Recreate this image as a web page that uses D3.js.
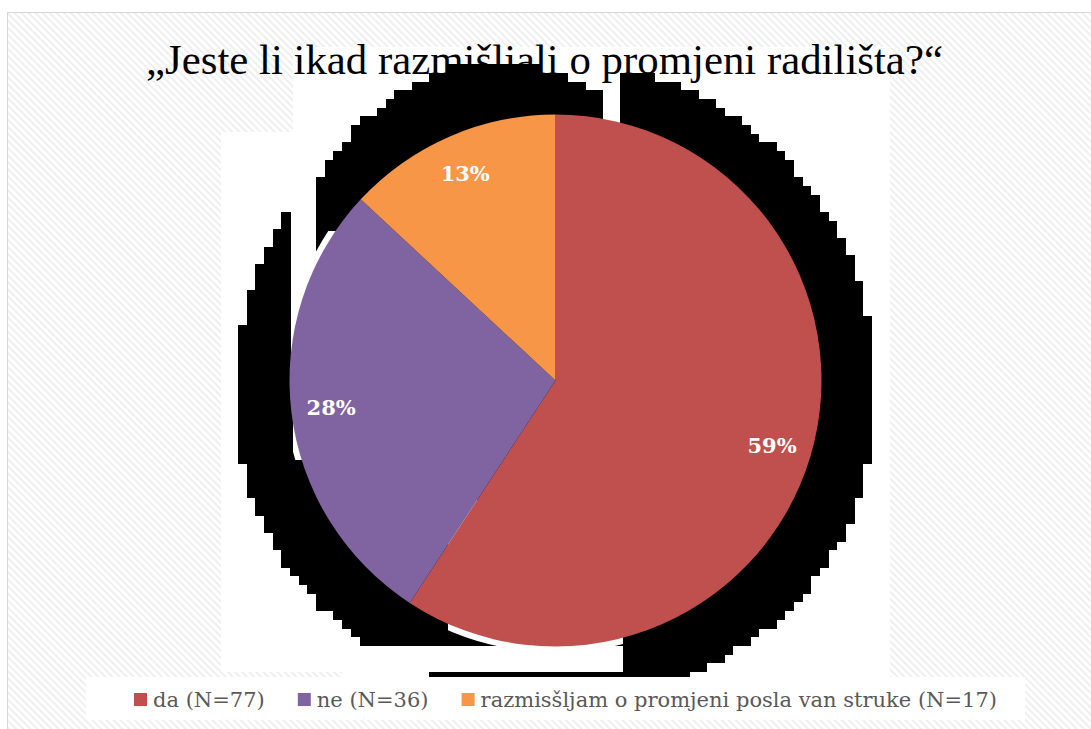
<!DOCTYPE html>
<html>
<head>
<meta charset="utf-8">
<script src="https://cdn.jsdelivr.net/npm/d3@7"></script>
<style>
  body { margin: 0; background: #fff; }
  svg { display: block; }
  .title { font-family: 'Liberation Serif', Tinos, 'Nimbus Roman', 'Times New Roman', 'DejaVu Serif', serif; }
</style>
</head>
<body>
<div id="chart"></div>
<script>
// podaci
const title = '„Jeste li ikad razmišljali o promjeni radilišta?“';
const categories = ['da (N=77)', 'ne (N=36)', 'razmisšljam o promjeni posla van struke (N=17)'];
const counts = [77, 36, 17];
const colors = ['#C0504D', '#8064A2', '#F79646'];

const W = 1091, H = 729;
const cx = 555.5, cy = 380.5, R = 266;

const svg = d3.select('#chart').append('svg')
    .attr('width', W)
    .attr('height', H);

const defs = svg.append('defs');
defs.append('pattern')
    .attr('id', 'hatch')
    .attr('width', 5).attr('height', 5)
    .attr('patternUnits', 'userSpaceOnUse')
    .attr('patternTransform', 'rotate(-45)')
    .append('rect')
    .attr('width', 2).attr('height', 5)
    .attr('fill', '#efefef');

// pozadina
svg.append('rect').attr('width', W).attr('height', H).attr('fill', '#fff');
svg.append('rect')
    .attr('x', 7.5).attr('y', 12.5)
    .attr('width', W).attr('height', H)
    .attr('fill', 'url(#hatch)')
    .attr('stroke', '#d6d6d6');

// bijele plohe
const panels = [[221, 132, 669, 540], [293, 47, 597, 625], [342, 672, 548, 5]];
svg.append('g').selectAll('rect')
    .data(panels)
    .join('rect')
    .attr('x', d => d[0]).attr('y', d => d[1])
    .attr('width', d => d[2]).attr('height', d => d[3])
    .attr('fill', '#fff');

// naslov
const titleText = svg.append('text')
    .attr('class', 'title')
    .attr('x', 544.5).attr('y', 74)
    .attr('text-anchor', 'middle')
    .attr('font-size', 40)
    .attr('fill', '#000')
    .text(title);
// prilagodi širinu naslova (oko 797 px)
const tw = titleText.node().getComputedTextLength();
titleText.attr('font-size', Math.min(44, 40 * 797 / tw));

// crna "sjena" iza grafikona (rasterizirana elipsa)
const g = 8.68, gx0 = 238, gy0 = 73 - 2 * 8.68;
function spanMain (x) {
    const dx = (x - cx) / 317.5;
    if (Math.abs(dx) >= 1) return null;
    const k = Math.sqrt(1 - dx * dx);
    return [377 - 315 * k, 412 + 290 * k];
}
function spanTop (x) {
    const dx = (x - 497) / 230;
    if (Math.abs(dx) >= 1) return null;
    const k = Math.sqrt(1 - dx * dx);
    return [377 - 315 * k, 400];
}
const cells = [];
for (let i = 0; i < 76; i++) {
    const x0 = gx0 + i * g, xc = x0 + g / 2;
    let spans = [];
    if (xc < 293 || xc > 623) {
        spans.push(spanMain(xc));
    } else {
        const m = spanMain(xc);
        if (m) spans.push([Math.max(m[0], 390), m[1]]);
        if (xc > 319 && xc < 606) spans.push(spanTop(xc));
    }
    spans.filter(Boolean).forEach(s => {
        const j0 = Math.ceil((s[0] - gy0) / g - 0.5);
        const j1 = Math.floor((s[1] - gy0) / g - 0.5);
        if (j1 >= j0) cells.push({ x: x0, y: gy0 + j0 * g, h: (j1 - j0 + 1) * g });
    });
}
svg.append('g')
    .attr('shape-rendering', 'crispEdges')
    .selectAll('rect')
    .data(cells)
    .join('rect')
    .attr('x', d => d.x).attr('y', d => d.y)
    .attr('width', g + 0.5).attr('height', d => d.h)
    .attr('fill', '#000');

// bijeli izrezi
defs.append('clipPath').attr('id', 'cutL')
    .append('rect').attr('x', 293).attr('y', 231).attr('width', 52).attr('height', 229);
defs.append('clipPath').attr('id', 'cutB')
    .append('rect').attr('x', 448).attr('y', 500).attr('width', 175).attr('height', 172);
const cuts = svg.append('g').attr('fill', '#fff');
cuts.append('circle').attr('cx', cx).attr('cy', cy).attr('r', 272).attr('clip-path', 'url(#cutL)');
cuts.append('circle').attr('cx', cx).attr('cy', cy).attr('r', 272).attr('clip-path', 'url(#cutB)');
cuts.append('rect').attr('x', 367).attr('y', 646).attr('width', 256).attr('height', 26);

// pita
const pie = d3.pie().sort(null).value(d => d);
const arcs = pie(counts);
const arc = d3.arc().innerRadius(0).outerRadius(R);
const labelArc = d3.arc().innerRadius(226).outerRadius(226);
const total = d3.sum(counts);
const pct = d3.format('.0%');

const pieG = svg.append('g').attr('transform', `translate(${cx},${cy})`);
pieG.selectAll('path')
    .data(arcs)
    .join('path')
    .attr('d', arc)
    .attr('fill', (d, i) => colors[i]);

pieG.selectAll('text')
    .data(arcs)
    .join('text')
    .attr('transform', d => `translate(${labelArc.centroid(d)})`)
    .attr('text-anchor', 'middle')
    .attr('dy', '0.36em')
    .attr('font-family', '"DejaVu Serif", serif')
    .attr('font-weight', 'bold')
    .attr('font-size', 21)
    .attr('fill', '#fff')
    .text(d => pct(d.value / total));

// legenda
svg.append('rect')
    .attr('x', 86).attr('y', 677)
    .attr('width', 939).attr('height', 43)
    .attr('fill', '#fff');

const legend = svg.append('g');
const items = legend.selectAll('g')
    .data(categories)
    .join('g');
items.append('rect')
    .attr('width', 13).attr('height', 13)
    .attr('y', 693)
    .attr('fill', (d, i) => colors[i]);
items.append('text')
    .attr('x', 19).attr('y', 707)
    .attr('font-family', '"DejaVu Serif", serif')
    .attr('font-size', 21)
    .attr('fill', '#595959')
    .text(d => d);

// raspored legende između x=134 i x=997
const widths = [];
items.each(function () {
    widths.push(19 + d3.select(this).select('text').node().getComputedTextLength());
});
const gap = (997 - 134 - d3.sum(widths)) / (widths.length - 1);
let lx = 134;
items.attr('transform', (d, i) => {
    const t = `translate(${lx},0)`;
    lx += widths[i] + gap;
    return t;
});
</script>
</body>
</html>
